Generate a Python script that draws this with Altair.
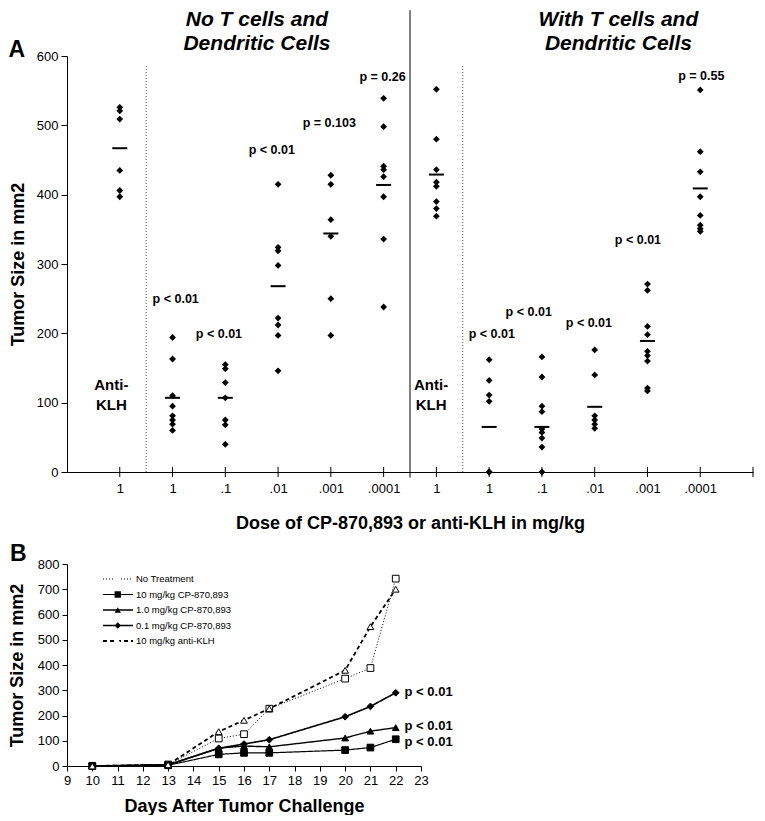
import altair as alt
import pandas as pd

# ---------------- Panel A data ----------------
a_group_pos = [1, 2, 3, 4, 5, 6, 7, 8, 9, 10, 11, 12]
a_tick_labels = ["1", "1", ".1", ".01", ".001", ".0001", "1", "1", ".1", ".01", ".001", ".0001"]
a_values = [
    [526, 521, 509, 435, 406, 397],
    [194, 163, 110, 95, 81, 75, 69, 60],
    [155, 149, 129, 107, 75, 68, 40],
    [415, 324, 319, 298, 222, 212, 197, 146],
    [428, 415, 364, 340, 250, 197],
    [539, 498, 441, 436, 426, 397, 336, 238],
    [552, 480, 436, 418, 412, 390, 380, 369],
    [162, 132, 111, 102, 0, 0],
    [166, 137, 95, 87, 62, 57, 49, 36, 0],
    [176, 140, 81, 75, 69, 63],
    [271, 262, 210, 198, 174, 168, 160, 121, 117],
    [551, 462, 433, 397, 370, 356, 351, 347],
]
a_means = [467, 107, 107, 268, 344, 414, 429, 65, 65, 94, 189, 409]

a_p_text = ["p < 0.01", "p < 0.01", "p < 0.01", "p = 0.103", "p = 0.26",
            "p < 0.01", "p < 0.01", "p < 0.01", "p < 0.01", "p = 0.55"]
a_p_x = [2.06, 2.88, 3.88, 4.97, 5.98, 8.05, 8.75, 9.89, 10.82, 12.02]
a_p_y = [250, 199, 464, 504, 569, 199, 231, 215, 334, 571]

a_klh_text = ["Anti-", "KLH", "Anti-", "KLH"]
a_klh_x = [0.84, 0.84, 6.9, 6.9]
a_klh_y = [125, 96, 125, 96]

a_title_text = ["No T cells and", "Dendritic Cells", "With T cells and", "Dendritic Cells"]
a_title_x = [3.6, 3.6, 10.45, 10.45]
a_title_y = [652, 617, 652, 617]

a_dotted_x = [1.5, 7.5]
a_dotted_bottom = [0, 0]
a_dotted_top = [588, 588]
a_divider_x = [6.5]
a_divider_y = [-8]
a_divider_top = [666]
a_axis_ticks = [1, 2, 3, 4, 5, 6, 7, 8, 9, 10, 11, 12, 13]

# ---------------- Panel B data ----------------
b_days = [10, 13, 15, 16, 17, 20, 21, 22]
b_series = ["No Treatment", "10 mg/kg CP-870,893", "1.0 mg/kg CP-870,893",
            "0.1 mg/kg CP-870,893", "10 mg/kg anti-KLH"]
b_codes = ["a", "b", "c", "d", "e"]
b_no_treatment = [0, 6, 109, 126, 227, 346, 388, 742]
b_10mg = [0, 3, 46, 52, 52, 63, 73, 106]
b_1mg = [0, 4, 71, 79, 76, 111, 138, 152]
b_01mg = [0, 5, 70, 87, 104, 195, 236, 290]
b_anti_klh = [0, 5, 136, 181, 227, 379, 552, 700]
b_x_ticks = [9, 10, 11, 12, 13, 14, 15, 16, 17, 18, 19, 20, 21, 22, 23]
b_y_ticks = [0, 100, 200, 300, 400, 500, 600, 700, 800]
b_p_text = ["p < 0.01", "p < 0.01", "p < 0.01"]
b_p_x = [22.35, 22.35, 22.35]
b_p_y = [292, 157, 94]

FONT = "Liberation Sans"

# ---------------- Panel A ----------------
pts = pd.DataFrame(
    [{"g": g, "v": v} for g, vals in zip(a_group_pos, a_values) for v in vals]
)
means = pd.DataFrame({"g": a_group_pos, "m": a_means})
pdf = pd.DataFrame({"t": a_p_text, "x": a_p_x, "y": a_p_y})
klh = pd.DataFrame({"t": a_klh_text, "x": a_klh_x, "y": a_klh_y})
ttl = pd.DataFrame({"t": a_title_text, "x": a_title_x, "y": a_title_y})
dotted = pd.DataFrame({"x": a_dotted_x, "y": a_dotted_bottom, "y2": a_dotted_top})
divider = pd.DataFrame({"x": a_divider_x, "y": a_divider_y, "y2": a_divider_top})
aticks = pd.DataFrame({"x": a_axis_ticks, "y": [0] * len(a_axis_ticks)})
alab = pd.DataFrame({"t": ["A"], "x": [-0.95], "y": [609]})

label_expr = "[" + ",".join("'%s'" % s for s in a_tick_labels) + "][datum.value - 1]"

xA = alt.Scale(domain=[0, 13], nice=False, zero=False)
yA = alt.Scale(domain=[0, 600], nice=False)

x_axis_A = alt.Axis(values=a_group_pos, labelExpr=label_expr, ticks=False, tickSize=0,
                    labelPadding=10, title="Dose of CP-870,893 or anti-KLH in mg/kg",
                    titlePadding=19, grid=False, labelFlush=False, labelOverlap=False)
y_axis_A = alt.Axis(values=[0, 100, 200, 300, 400, 500, 600], tickSize=6, labelPadding=3,
                    title="Tumor Size in mm2", titlePadding=9, grid=False, labelOverlap=False)

a_points = alt.Chart(pts).mark_point(shape="diamond", filled=True, color="black",
                                     opacity=1, size=46).encode(
    x=alt.X("g:Q", scale=xA, axis=x_axis_A),
    y=alt.Y("v:Q", scale=yA, axis=y_axis_A),
)
a_mean = alt.Chart(means).mark_tick(orient="horizontal", size=15, thickness=2,
                                    color="black", opacity=1).encode(
    x=alt.X("g:Q", scale=xA, axis=x_axis_A), y=alt.Y("m:Q", scale=yA, axis=y_axis_A))
a_dot = alt.Chart(dotted).mark_rule(strokeDash=[1, 2], color="#555", strokeWidth=1).encode(
    x=alt.X("x:Q", scale=xA, axis=x_axis_A), y=alt.Y("y:Q", scale=yA, axis=y_axis_A),
    y2=alt.Y2("y2:Q"))
a_div = alt.Chart(divider).mark_rule(color="black", strokeWidth=1).encode(
    x=alt.X("x:Q", scale=xA, axis=x_axis_A), y=alt.Y("y:Q", scale=yA, axis=y_axis_A),
    y2=alt.Y2("y2:Q"))
a_tk = alt.Chart(aticks).mark_tick(orient="vertical", size=10, thickness=1,
                                   color="black", opacity=1).encode(
    x=alt.X("x:Q", scale=xA, axis=x_axis_A), y=alt.Y("y:Q", scale=yA, axis=y_axis_A))


def a_text(df, size, italic=False):
    kw = dict(font=FONT, fontSize=size, fontWeight="bold", color="black", baseline="middle")
    if italic:
        kw["fontStyle"] = "italic"
    return alt.Chart(df).mark_text(**kw).encode(
        x=alt.X("x:Q", scale=xA, axis=x_axis_A), y=alt.Y("y:Q", scale=yA, axis=y_axis_A),
        text="t:N")


panelA = alt.layer(
    a_points, a_dot, a_div, a_tk, a_mean,
    a_text(pdf, 12.5), a_text(klh, 15), a_text(ttl, 21, italic=True), a_text(alab, 23)
).properties(width=686, height=416)

# ---------------- Panel B ----------------
series_vals = [b_no_treatment, b_10mg, b_1mg, b_01mg, b_anti_klh]
rows = []
for name, code, vals in zip(b_series, b_codes, series_vals):
    for d, v in zip(b_days, vals):
        rows.append({"day": d, "value": v, "s1": name, "s2": code})
bdf = pd.DataFrame(rows)
bp = pd.DataFrame({"t": b_p_text, "x": b_p_x, "y": b_p_y})
blab = pd.DataFrame({"t": ["B"], "x": [7.07], "y": [840]})

xB = alt.Scale(domain=[9, 23], nice=False, zero=False)
yB = alt.Scale(domain=[0, 800], nice=False)
x_axis_B = alt.Axis(values=b_x_ticks, tickCount=15, tickSize=5, labelPadding=3, grid=False,
                    title="Days After Tumor Challenge", titlePadding=10, labelFlush=False,
                    labelOverlap=False)
y_axis_B = alt.Axis(values=b_y_ticks, tickCount=9, tickSize=5, labelPadding=3, grid=False,
                    title="Tumor Size in mm2", titlePadding=11, labelOverlap=False)

line_legend = alt.Legend(orient="none", legendX=35, legendY=9, title=None, padding=0,
                         rowPadding=3.5, clipHeight=12, symbolType="stroke", symbolSize=900,
                         symbolStrokeColor="black", symbolStrokeWidth=1.3, labelFont=FONT,
                         labelFontSize=9.5, labelColor="black", labelOffset=2)
pt_legend = alt.Legend(orient="none", legendX=46, legendY=9, title=None, padding=0,
                       rowPadding=3.5, clipHeight=12, symbolSize=40,
                       symbolStrokeColor="black", symbolStrokeWidth=1, symbolOpacity=1,
                       labelFont=FONT, labelFontSize=9.5, labelOpacity=0, labelOffset=2)

b_lines = alt.Chart(bdf).mark_line(color="black").encode(
    x=alt.X("day:Q", scale=xB, axis=x_axis_B),
    y=alt.Y("value:Q", scale=yB, axis=y_axis_B),
    detail="s1:N",
    strokeDash=alt.StrokeDash("s1:N", scale=alt.Scale(domain=b_series,
                              range=[[1, 2], [1, 0], [1, 0], [1, 0], [4, 3]]), legend=line_legend),
    strokeWidth=alt.StrokeWidth("s1:N", scale=alt.Scale(domain=b_series,
                                range=[1, 1.8, 1.8, 1.8, 1.8]), legend=None),
)
b_pts = alt.Chart(bdf).mark_point(stroke="black", strokeWidth=1, opacity=1, size=45).encode(
    x=alt.X("day:Q", scale=xB, axis=x_axis_B),
    y=alt.Y("value:Q", scale=yB, axis=y_axis_B),
    shape=alt.Shape("s2:N", scale=alt.Scale(domain=b_codes,
                    range=["square", "square", "triangle-up", "diamond", "triangle-up"]),
                    legend=pt_legend),
    fill=alt.Fill("s2:N", scale=alt.Scale(domain=b_codes,
                  range=["white", "black", "black", "black", "white"]), legend=pt_legend),
)
b_ptext = alt.Chart(bp).mark_text(font=FONT, fontSize=13, fontWeight="bold", color="black",
                                  align="left", baseline="middle").encode(
    x=alt.X("x:Q", scale=xB, axis=x_axis_B), y=alt.Y("y:Q", scale=yB, axis=y_axis_B),
    text="t:N")
b_lab = alt.Chart(blab).mark_text(font=FONT, fontSize=23, fontWeight="bold", color="black",
                                  baseline="middle").encode(
    x=alt.X("x:Q", scale=xB, axis=x_axis_B), y=alt.Y("y:Q", scale=yB, axis=y_axis_B),
    text="t:N")

panelB = alt.layer(b_lines, b_pts, b_ptext, b_lab).properties(width=354, height=202)

chart = alt.vconcat(panelA, panelB, spacing=92, bounds="flush").resolve_scale(
    strokeDash="independent", strokeWidth="independent", shape="independent", fill="independent"
).resolve_legend(
    strokeDash="independent", strokeWidth="independent", shape="independent", fill="independent"
).properties(
    padding={"left": 0, "top": 0, "right": 0, "bottom": 0}
).configure(font=FONT, background="white").configure_view(stroke=None).configure_axis(
    labelFont=FONT, labelFontSize=13, labelColor="black", domainColor="black",
    tickColor="black", titleFont=FONT, titleFontSize=18, titleFontWeight="bold",
    titleColor="black", domainWidth=1, tickWidth=1
)

chart.save("out.html", embed_options={"renderer": "svg", "actions": False})
